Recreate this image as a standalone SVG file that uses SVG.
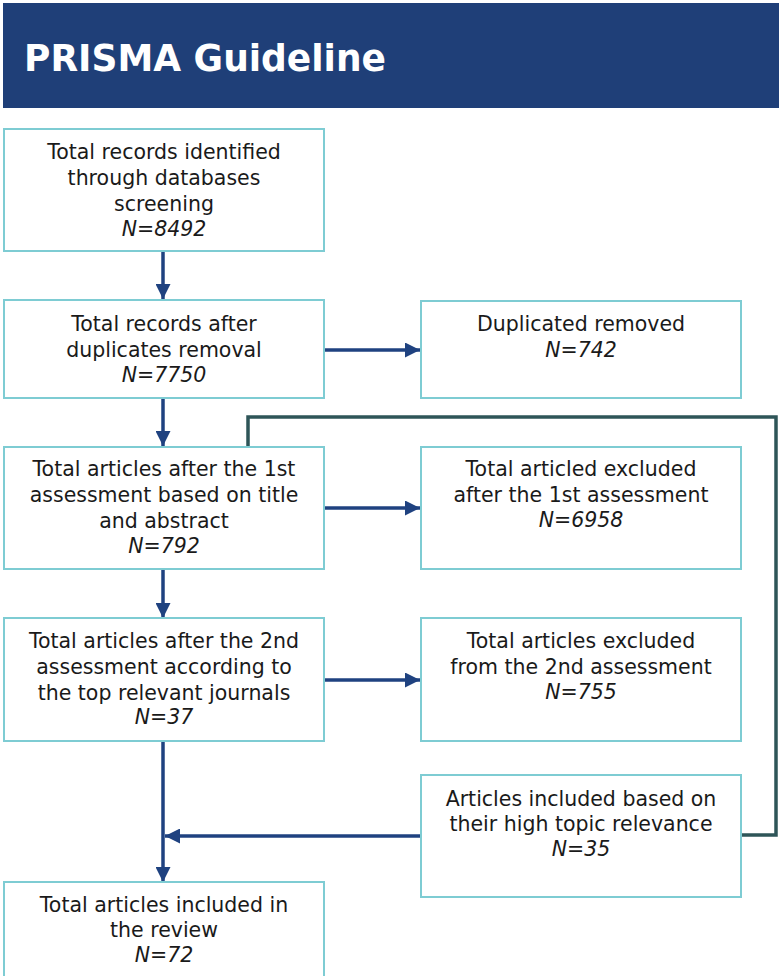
<svg xmlns="http://www.w3.org/2000/svg" width="779" height="976" viewBox="0 0 779 976">
<defs>
<style>
.box{fill:#fff;stroke:#7ECCD3;stroke-width:2}
.t{font-family:"DejaVu Sans","Liberation Sans",sans-serif;font-size:20.5px;fill:#1a1a1a;text-anchor:middle}
.n{font-style:italic}
.c{fill:none;stroke:#1F4280;stroke-width:3.5}
.g{fill:none;stroke:#2E5558;stroke-width:3.5}
</style>
<marker id="ah" viewBox="0 0 10 10" refX="10" refY="5" markerWidth="15" markerHeight="15" markerUnits="userSpaceOnUse" orient="auto">
<path d="M0,0 L10,5 L0,10 Z" fill="#1F4280"/>
</marker>
</defs>
<rect width="779" height="976" fill="#fff"/>
<g id="header">
<rect x="3" y="3" width="776" height="105" fill="#1F3F78"/>
<text x="24" y="71" font-family="DejaVu Sans,sans-serif" font-weight="bold" font-size="38" fill="#fff" textLength="362" lengthAdjust="spacingAndGlyphs">PRISMA Guideline</text>
</g>
<g id="connectors">
<line class="c" x1="163" y1="251" x2="163" y2="299" marker-end="url(#ah)"/>
<line class="c" x1="324" y1="350" x2="420" y2="350" marker-end="url(#ah)"/>
<line class="c" x1="163" y1="398" x2="163" y2="446" marker-end="url(#ah)"/>
<line class="c" x1="324" y1="508" x2="420" y2="508" marker-end="url(#ah)"/>
<line class="c" x1="163" y1="570" x2="163" y2="618" marker-end="url(#ah)"/>
<line class="c" x1="324" y1="680" x2="420" y2="680" marker-end="url(#ah)"/>
<line class="c" x1="163" y1="741" x2="163" y2="882" marker-end="url(#ah)"/>
<line class="c" x1="420" y1="836" x2="165" y2="836" marker-end="url(#ah)"/>
<polyline class="g" points="248,446 248,417 776,417 776,835 742,835"/>
</g>
<g id="n1">
<rect class="box" x="4" y="129" width="320" height="122"/>
<text class="t" x="164" y="159">Total records identified</text>
<text class="t" x="164" y="185">through databases</text>
<text class="t" x="164" y="211">screening</text>
<text class="t n" x="164" y="236">N=8492</text>
</g>
<g id="n2">
<rect class="box" x="4" y="300" width="320" height="98"/>
<text class="t" x="164" y="331">Total records after</text>
<text class="t" x="164" y="357">duplicates removal</text>
<text class="t n" x="164" y="382">N=7750</text>
</g>
<g id="n3">
<rect class="box" x="421" y="301" width="320" height="97"/>
<text class="t" x="581" y="331">Duplicated removed</text>
<text class="t n" x="581" y="357">N=742</text>
</g>
<g id="n4">
<rect class="box" x="4" y="447" width="320" height="122"/>
<text class="t" x="164" y="476">Total articles after the 1st</text>
<text class="t" x="164" y="502">assessment based on title</text>
<text class="t" x="164" y="528">and abstract</text>
<text class="t n" x="164" y="553">N=792</text>
</g>
<g id="n5">
<rect class="box" x="421" y="447" width="320" height="122"/>
<text class="t" x="581" y="476">Total articled excluded</text>
<text class="t" x="581" y="502">after the 1st assessment</text>
<text class="t n" x="581" y="527">N=6958</text>
</g>
<g id="n6">
<rect class="box" x="4" y="618" width="320" height="123"/>
<text class="t" x="164" y="648">Total articles after the 2nd</text>
<text class="t" x="164" y="674">assessment according to</text>
<text class="t" x="164" y="700">the top relevant journals</text>
<text class="t n" x="164" y="724">N=37</text>
</g>
<g id="n7">
<rect class="box" x="421" y="618" width="320" height="123"/>
<text class="t" x="581" y="648">Total articles excluded</text>
<text class="t" x="581" y="674">from the 2nd assessment</text>
<text class="t n" x="581" y="699">N=755</text>
</g>
<g id="n8">
<rect class="box" x="421" y="775" width="320" height="122"/>
<text class="t" x="581" y="806">Articles included based on</text>
<text class="t" x="581" y="831">their high topic relevance</text>
<text class="t n" x="581" y="856">N=35</text>
</g>
<g id="n9">
<rect class="box" x="4" y="882" width="320" height="100"/>
<text class="t" x="164" y="912">Total articles included in</text>
<text class="t" x="164" y="937">the review</text>
<text class="t n" x="164" y="962">N=72</text>
</g>
</svg>
